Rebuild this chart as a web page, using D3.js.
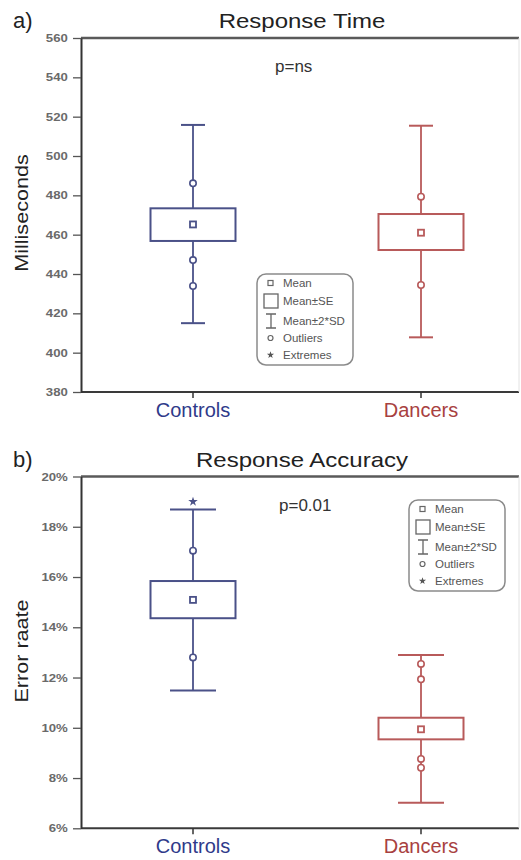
<!DOCTYPE html>
<html>
<head>
<meta charset="utf-8">
<script src="https://cdn.jsdelivr.net/npm/d3@7"></script>
<style>
  html, body { margin: 0; padding: 0; background: #fff; }
  svg { display: block; font-family: "Liberation Sans", Arial, sans-serif; }
</style>
</head>
<body>
<svg id="chart" width="521" height="860"></svg>
<script>
// Groups compared in both panels
const categories = ["Controls", "Dancers"];

// Panel a: response time (ms)
const rtTicks = [380, 400, 420, 440, 460, 480, 500, 520, 540, 560];
const rtMean = [465.2, 461.0];
const rtSeLow = [456.8, 452.2];
const rtSeHigh = [473.4, 470.5];
const rtSdLow = [415.0, 407.8];
const rtSdHigh = [515.8, 515.4];
const rtOutliers = [[486.1, 447.1, 433.9], [479.3, 434.4]];
const rtExtremes = [[], []];

// Panel b: error rate (%)
const accTicks = [6, 8, 10, 12, 14, 16, 18, 20];
const accMean = [15.09, 9.94];
const accSeLow = [14.36, 9.54];
const accSeHigh = [15.84, 10.40];
const accSdLow = [11.48, 7.02];
const accSdHigh = [18.69, 12.90];
const accOutliers = [[17.05, 12.80], [12.54, 11.93, 8.76, 8.41]];
const accExtremes = [[19.0], []];

const legendItems = ["Mean", "Mean±SE", "Mean±2*SD", "Outliers", "Extremes"];

const strokeColors = ["#4a5188", "#b85a5a"];
const labelColors = ["#2f3a8a", "#a8413f"];

const svg = d3.select("#chart");

// text with a horizontal stretch
function wideText(g, x, y, str, size, sx, opts = {}) {
  return g.append("text")
    .attr("transform", `translate(${x},${y}) scale(${sx},1)`)
    .attr("font-size", size)
    .attr("text-anchor", opts.anchor || "start")
    .attr("fill", opts.fill || "#222")
    .attr("font-weight", opts.weight || "normal")
    .text(str);
}

function drawPanel(p) {
  const g = svg.append("g");
  const left = 81, right = 519;
  const y = d3.scaleLinear().domain(p.domain).range([p.bottom, p.top]);
  const x = d3.scalePoint().domain(categories).range([193, 421]);

  // panel letter and title
  g.append("text").attr("x", 13).attr("y", p.top - 10)
    .attr("font-size", 22).attr("fill", "#222").text(p.letter);
  wideText(g, 302, p.top - 10, p.title, 20, 1.2, { anchor: "middle" });

  // frame
  g.append("line").attr("x1", left).attr("x2", right).attr("y1", p.top).attr("y2", p.top)
    .attr("stroke", "#5a5a5a").attr("stroke-width", 2.5);
  g.append("line").attr("x1", left).attr("x2", right).attr("y1", p.bottom).attr("y2", p.bottom)
    .attr("stroke", "#3a3a3a").attr("stroke-width", 2);
  g.append("line").attr("x1", right).attr("x2", right).attr("y1", p.top).attr("y2", p.bottom)
    .attr("stroke", "#e2e2e2").attr("stroke-width", 1);

  // y axis
  const ax = g.append("g").attr("transform", `translate(${left},0)`)
    .call(d3.axisLeft(y).tickValues(p.ticks).tickSize(8).tickSizeOuter(0).tickFormat(p.fmt));
  ax.select(".domain").attr("stroke", "#333").attr("stroke-width", 2);
  ax.selectAll(".tick line").attr("stroke", "#555").attr("stroke-width", 1.3);
  ax.selectAll(".tick text")
    .attr("font-size", 11).attr("font-weight", "bold").attr("fill", "#6a6a6a")
    .attr("font-family", "'Liberation Sans', Arial, sans-serif")
    .attr("x", -11)
    .attr("transform", "scale(1.2,1)");

  // y axis title
  g.append("text")
    .attr("transform", `translate(28,${p.labelY}) rotate(-90) scale(1.2,1)`)
    .attr("text-anchor", "middle").attr("font-size", 18).attr("fill", "#222")
    .text(p.yLabel);

  // category ticks and labels
  categories.forEach((c, i) => {
    g.append("line").attr("x1", x(c)).attr("x2", x(c))
      .attr("y1", p.bottom).attr("y2", p.bottom + 6)
      .attr("stroke", "#333").attr("stroke-width", 1.5);
    g.append("text").attr("x", x(c)).attr("y", p.bottom + 25)
      .attr("text-anchor", "middle").attr("font-size", 20)
      .attr("fill", labelColors[i]).text(c);
  });

  // p value
  g.append("text").attr("x", p.pX).attr("y", p.top + 34)
    .attr("font-size", 17).attr("fill", "#333").text(p.pText);

  // boxes
  categories.forEach((c, i) => {
    const cx = x(c), col = strokeColors[i];
    const bg = g.append("g");
    bg.append("line").attr("x1", cx).attr("x2", cx)
      .attr("y1", y(p.sdLow[i])).attr("y2", y(p.sdHigh[i]))
      .attr("stroke", col).attr("stroke-width", 1.8);
    [p.sdLow[i], p.sdHigh[i]].forEach(v => {
      bg.append("line").attr("x1", cx - p.capHalf).attr("x2", cx + p.capHalf)
        .attr("y1", y(v)).attr("y2", y(v))
        .attr("stroke", col).attr("stroke-width", 2);
    });
    bg.append("rect").attr("x", cx - 42.5).attr("width", 85)
      .attr("y", y(p.seHigh[i])).attr("height", y(p.seLow[i]) - y(p.seHigh[i]))
      .attr("fill", "#fff").attr("stroke", col).attr("stroke-width", 2);
    bg.append("rect").attr("x", cx - 3).attr("y", y(p.mean[i]) - 3)
      .attr("width", 6).attr("height", 6)
      .attr("fill", "#fff").attr("stroke", col).attr("stroke-width", 1.8);
    p.outliers[i].forEach(v => {
      bg.append("circle").attr("cx", cx).attr("cy", y(v)).attr("r", 3.2)
        .attr("fill", "#fff").attr("stroke", col).attr("stroke-width", 1.6);
    });
    p.extremes[i].forEach(v => {
      bg.append("path").attr("transform", `translate(${cx},${y(v)})`)
        .attr("d", d3.symbol(d3.symbolStar, 28)())
        .attr("fill", col);
    });
  });

  // legend
  const lg = g.append("g").attr("transform", `translate(${p.legX},${p.legY})`);
  lg.append("rect").attr("width", 96).attr("height", 91).attr("rx", 9)
    .attr("fill", "#fff").attr("stroke", "#8a8a8a").attr("stroke-width", 1.5);
  const rows = [9, 27, 47, 64, 81];
  const sym = "#666";
  legendItems.forEach((t, k) => {
    lg.append("text").attr("x", 26).attr("y", rows[k] + 4)
      .attr("font-size", 11.5).attr("fill", "#555").text(t);
  });
  lg.append("rect").attr("x", 11).attr("y", rows[0] - 2.5).attr("width", 5).attr("height", 5)
    .attr("fill", "none").attr("stroke", sym).attr("stroke-width", 1.2);
  lg.append("rect").attr("x", 7).attr("y", rows[1] - 7).attr("width", 14).attr("height", 14)
    .attr("fill", "none").attr("stroke", sym).attr("stroke-width", 1.3);
  lg.append("path")
    .attr("d", `M9,${rows[2] - 7}H19M14,${rows[2] - 7}V${rows[2] + 7}M9,${rows[2] + 7}H19`)
    .attr("fill", "none").attr("stroke", sym).attr("stroke-width", 1.3);
  lg.append("circle").attr("cx", 13.5).attr("cy", rows[3]).attr("r", 2.5)
    .attr("fill", "none").attr("stroke", sym).attr("stroke-width", 1.2);
  lg.append("path").attr("transform", `translate(13.5,${rows[4]})`)
    .attr("d", d3.symbol(d3.symbolStar, 16)()).attr("fill", "#555");
}

drawPanel({
  letter: "a)", title: "Response Time", yLabel: "Milliseconds", labelY: 213,
  domain: [380, 560], top: 38, bottom: 392, ticks: rtTicks, fmt: d => d,
  mean: rtMean, seLow: rtSeLow, seHigh: rtSeHigh, sdLow: rtSdLow, sdHigh: rtSdHigh,
  outliers: rtOutliers, extremes: rtExtremes, capHalf: 12,
  pText: "p=ns", pX: 275, legX: 257, legY: 274
});

drawPanel({
  letter: "b)", title: "Response Accuracy", yLabel: "Error raate", labelY: 651,
  domain: [6, 20], top: 476.5, bottom: 828.3, ticks: accTicks, fmt: d => d + "%",
  mean: accMean, seLow: accSeLow, seHigh: accSeHigh, sdLow: accSdLow, sdHigh: accSdHigh,
  outliers: accOutliers, extremes: accExtremes, capHalf: 23,
  pText: "p=0.01", pX: 279, legX: 409, legY: 500
});
</script>
</body>
</html>
